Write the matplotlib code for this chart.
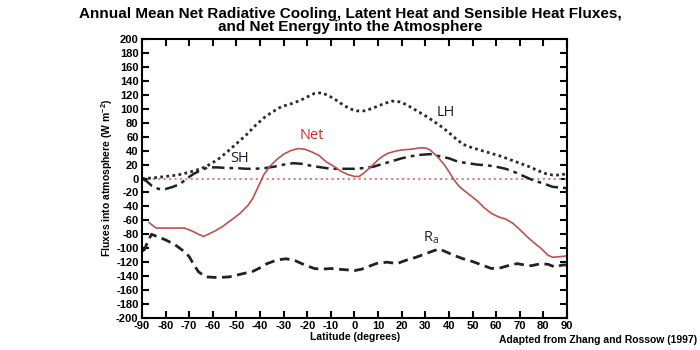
import matplotlib
matplotlib.use("Agg")
import matplotlib.pyplot as plt

# ---- data ----
lh_lat = [-90, -85, -80, -75, -70, -65, -62, -58, -54, -50, -46, -42, -38, -35, -31, -27, -23, -20,
          -17, -14, -11, -8, -5, -2, 1, 4, 7, 10, 13, 16, 19, 22, 25, 28, 31, 34, 37, 40, 43, 46,
          50, 54, 58, 62, 66, 70, 74, 78, 81, 84, 87, 90]
lh_val = [0, 1, 3, 5, 9, 14, 19, 27, 38, 50, 62, 76, 88, 95, 103, 107, 112, 117,
          122, 123, 119, 113, 106, 100, 97, 97, 100, 104, 108, 111, 110, 106, 100, 94, 88, 81, 74, 66, 57, 49,
          44, 40, 36, 32, 27, 22, 17, 11, 7, 5, 5, 7]

sh_lat = [-90, -88, -86, -83, -80, -77, -74, -71, -68, -65, -62, -58, -54, -50, -46, -42, -38, -34, -30,
          -26, -22, -18, -14, -10, -5, 0, 4, 8, 12, 16, 20, 24, 28, 32, 36, 40, 44, 48, 52, 56, 60,
          64, 68, 72, 76, 80, 84, 88, 90]
sh_val = [0, -4, -10, -15, -15, -12, -8, 0, 7, 12, 16, 16, 15, 15, 14, 14, 15, 17, 20,
          22, 21, 18, 16, 14, 14, 14, 15, 17, 21, 25, 29, 32, 34, 35, 32, 29, 24, 22, 20, 19, 17,
          14, 9, 3, -3, -7, -12, -13, -14]

net_lat = [-87, -86, -84, -80, -76, -72, -69, -66, -64, -62, -59, -56, -52, -48.5, -45, -43, -41.5, -40,
           -38.5, -36, -33, -30, -27, -24, -21, -18, -15, -12, -9, -6, -3, 0, 2, 4, 6, 8, 10, 12, 14,
           17, 20, 24, 28, 30, 32, 34, 36, 38, 40, 42, 44, 46, 49, 52, 55, 58, 61, 64, 67, 70, 73,
           76, 79, 82, 84, 87, 90]
net_val = [-63, -66, -71, -71, -71, -71, -75, -80, -83, -80, -75, -69, -59, -50, -38, -28, -17, -6,
           5, 17, 27, 35, 40, 43, 42, 38, 33, 24, 18, 11, 6, 3, 3, 8, 14, 20, 27, 32, 36,
           39, 41, 42, 44, 44, 41, 35, 28, 20, 10, -1, -10, -16, -24, -32, -42, -50, -55, -58, -64, -73, -83,
           -92, -100, -110, -113, -112, -111]

ra_lat = [-90, -89, -87.5, -86, -83, -80, -76, -72, -70, -68, -66, -63, -58, -53, -48, -43, -40, -37,
          -33, -29, -25, -21, -17, -14, -10, -7, -3, 0, 3, 6, 10, 14, 18, 22, 26, 30, 34, 36, 38,
          42, 46, 50, 54, 58, 62, 66, 69, 72, 75, 79, 82, 85, 88, 90]
ra_val = [-104, -102, -90, -80, -84, -88, -95, -105, -112, -124, -134, -141, -142, -141, -137, -133, -128, -122,
          -117, -115, -118, -124, -129, -130, -129, -130, -131, -132, -130, -126, -121, -120, -122, -117, -113, -108, -103, -101, -104,
          -110, -115, -119, -124, -129, -128, -124, -122, -124, -125, -122, -123, -127, -124, -124]

zero_lat = [-90, 90]
zero_val = [0, 0]

xticks = list(range(-90, 91, 10))
yticks = list(range(-200, 201, 20))

title_lines = ["Annual Mean Net Radiative Cooling, Latent Heat and Sensible Heat Fluxes,",
               "and Net Energy into the Atmosphere"]

plt.rcParams['axes.unicode_minus'] = False
plt.rcParams['mathtext.fontset'] = 'custom'
plt.rcParams['mathtext.bf'] = 'Liberation Sans:bold'
plt.rcParams['mathtext.rm'] = 'Liberation Sans:bold'
plt.rcParams['mathtext.sf'] = 'Open Sans'

font = ['Liberation Sans', 'DejaVu Sans']

fig = plt.figure(figsize=(7, 3.5), dpi=100)
ax = fig.add_axes([0.2029, 0.0914, 0.607, 0.797])

ax.plot(zero_lat, zero_val, color='#d9837e', lw=1.5, ls=(0, (1, 1.6)))
ax.plot(lh_lat, lh_val, color='#2a2a2a', lw=2.0, ls=(0, (1, 1.2)))
ax.plot(sh_lat, sh_val, color='#222222', lw=1.8, ls=(0, (5, 2, 1.5, 2)))
ax.plot(ra_lat, ra_val, color='#222222', lw=2.0, ls=(0, (3.5, 2)))
ax.plot(net_lat, net_val, color='#c0504d', lw=1.2)

lab_font = ['Open Sans', 'DejaVu Sans']
ax.text(-18, 62, 'Net', color='#d42a2a', fontsize=10.5, family=lab_font, ha='center', va='center')
ax.text(-48.5, 29, 'SH', color='#1c1c3a', fontsize=10.5, family=lab_font, ha='center', va='center')
ax.text(38.5, 94, 'LH', color='#1c1c3a', fontsize=10.5, family=lab_font, ha='center', va='center')
ax.text(32.5, -85, r'R$_\mathsf{a}$', color='#1c1c3a', fontsize=10.5, family=lab_font, ha='center', va='center')

ax.set_xlim(-90, 90)
ax.set_ylim(-200, 200)
ax.set_xticks(xticks)
ax.set_yticks(yticks)
ax.tick_params(direction='in', length=5, width=1.5, top=True, right=True,
               labeltop=False, labelright=False, pad=2.5)
for lab in ax.get_xticklabels() + ax.get_yticklabels():
    lab.set_fontweight('bold')
    lab.set_fontsize(8)
    lab.set_family(font)
for s in ax.spines.values():
    s.set_linewidth(1.5)

fig.text(0.5, 1 - 14 / 350, title_lines[0], ha='center', va='center', fontsize=11,
         fontweight='bold', family=font)
fig.text(0.5, 1 - 27 / 350, title_lines[1], ha='center', va='center', fontsize=11,
         fontweight='bold', family=font)
fig.text(107 / 700, 1 - 178 / 350, r'Fluxes into atmosphere (W m$^{\mathbf{-2}}$)',
         rotation=90, ha='center', va='center', fontsize=7.5, fontweight='bold', family=font)
fig.text(355 / 700, 1 - 337 / 350, 'Latitude (degrees)', ha='center', va='center',
         fontsize=7.5, fontweight='bold', family=font)
fig.text(697 / 700, 1 - 340 / 350, 'Adapted from Zhang and Rossow (1997)', ha='right', va='center',
         fontsize=7.5, fontweight='bold', family=font)

fig.savefig('out.png', dpi=100)
